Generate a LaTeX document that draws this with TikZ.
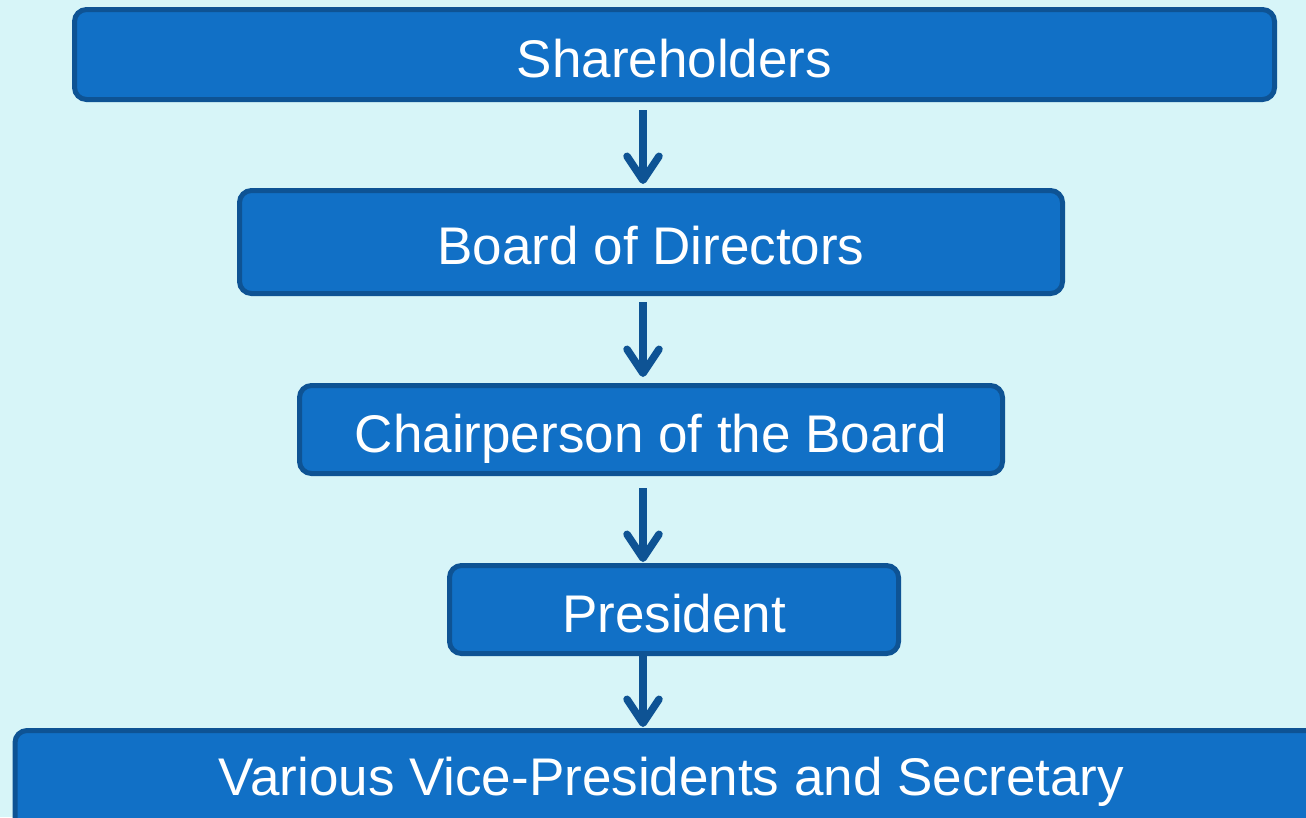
\documentclass[tikz,border=0pt]{standalone}
\usepackage{fontspec}
\setmainfont{Liberation Sans}
\usetikzlibrary{arrows.meta}
\definecolor{bg}{HTML}{D7F5F8}
\definecolor{boxfill}{HTML}{1170C6}
\definecolor{boxline}{HTML}{0E5394}
\tikzset{
  orgbox/.style={draw=boxline, fill=boxfill, line width=5pt, rounded corners=12pt,
    inner sep=0pt, text=white, font=\fontsize{53}{60}\selectfont,
    text height=45pt, text depth=0pt},
  arr/.style={draw=boxline, line width=7.5pt,
    -{Straight Barb[length=24pt, width=32pt, line cap=round, line join=round]}}
}
\begin{document}
\begin{tikzpicture}[x=1pt,y=-1pt]
\useasboundingbox (0,0) rectangle (1306,817);
\clip (0,0) rectangle (1306,817);
\fill[bg] (0,0) rectangle (1306,817);
\node[orgbox, minimum width=1200pt, minimum height=90pt] (sh) at (674.5,54.5) {Shareholders};
\node[orgbox, minimum width=823pt, minimum height=103pt] (bd) at (651,242) {Board of Directors};
\node[orgbox, minimum width=703pt, minimum height=88pt] (ch) at (651,429.5) {Chairperson of the Board};
\node[orgbox, minimum width=449pt, minimum height=88pt] (pr) at (674,609.5) {President};
\node[orgbox, minimum width=1313pt, minimum height=127pt, text height=40pt, text depth=38pt] (vp) at (671.5,794) {Various Vice-Presidents and Secretary};
\coordinate (ax) at (643,0);
\draw[arr, shorten <=8pt, shorten >=4pt] (sh.south -| ax) -- (bd.north -| ax);
\draw[arr, shorten <=6pt, shorten >=6pt] (bd.south -| ax) -- (ch.north -| ax);
\draw[arr, shorten <=12pt, shorten >=1pt] (ch.south -| ax) -- (pr.north -| ax);
\draw[arr, shorten >=1pt] (pr.south -| ax) -- (vp.north -| ax);
\end{tikzpicture}
\end{document}
